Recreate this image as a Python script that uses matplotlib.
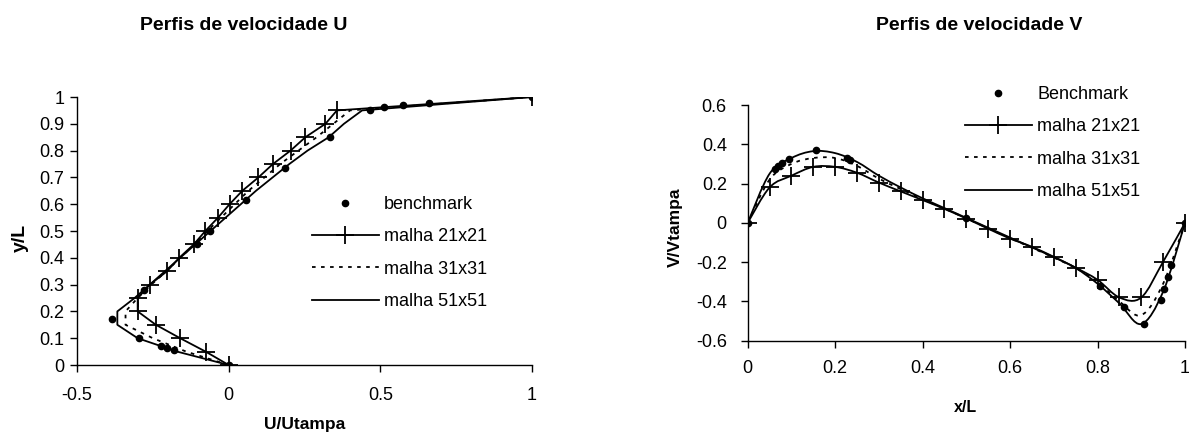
import numpy as np
import matplotlib.pyplot as plt
from matplotlib.path import Path
from matplotlib.patches import PathPatch

plt.rcParams['font.family'] = ['Liberation Sans', 'DejaVu Sans']

# --- perfil U ao longo da linha vertical central ---
bench_y = [0.0, 0.0547, 0.0625, 0.0703, 0.1016, 0.1719, 0.2813, 0.4531, 0.5,
           0.6172, 0.7344, 0.8516, 0.9531, 0.9609, 0.9688, 0.9766, 1.0]
bench_u = [0.0, -0.181, -0.202, -0.222, -0.297, -0.383, -0.278, -0.106, -0.061,
           0.057, 0.187, 0.333, 0.466, 0.511, 0.575, 0.659, 1.0]

y_grid = [0.0, 0.05, 0.1, 0.15, 0.2, 0.25, 0.3, 0.35, 0.4, 0.45, 0.5,
          0.55, 0.6, 0.65, 0.7, 0.75, 0.8, 0.85, 0.9, 0.95, 1.0]
u_21 = [0.0, -0.076, -0.16, -0.24, -0.30, -0.30, -0.26, -0.203, -0.163, -0.115, -0.077,
        -0.035, 0.003, 0.045, 0.098, 0.146, 0.204, 0.253, 0.319, 0.357, 1.0]
u_31 = [0.0, -0.14, -0.25, -0.34, -0.34, -0.30, -0.255, -0.205, -0.16, -0.112, -0.07,
        -0.025, 0.02, 0.065, 0.118, 0.17, 0.23, 0.29, 0.345, 0.40, 1.0]
u_51 = [0.0, -0.17, -0.30, -0.367, -0.367, -0.31, -0.26, -0.21, -0.16, -0.11, -0.06,
        -0.01, 0.04, 0.09, 0.145, 0.20, 0.26, 0.33, 0.38, 0.44, 1.0]

# --- perfil V ao longo da linha horizontal central ---
bench_x = [0.0, 0.0625, 0.0703, 0.0781, 0.0938, 0.1563, 0.2266, 0.2344, 0.5,
           0.8047, 0.8594, 0.9063, 0.9453, 0.9531, 0.9609, 0.9688, 1.0]
bench_v = [0.0, 0.275, 0.290, 0.304, 0.326, 0.371, 0.331, 0.322, 0.025,
           -0.320, -0.427, -0.516, -0.392, -0.337, -0.277, -0.214, 0.0]

x_grid = y_grid
v_21 = [0.0, 0.18, 0.24, 0.285, 0.285, 0.255, 0.205, 0.16, 0.116, 0.071, 0.022,
        -0.03, -0.08, -0.122, -0.173, -0.228, -0.29, -0.38, -0.38, -0.198, 0.0]
v_31 = [0.0, 0.22, 0.30, 0.33, 0.33, 0.29, 0.225, 0.172, 0.12, 0.072, 0.023,
        -0.028, -0.078, -0.127, -0.177, -0.23, -0.30, -0.40, -0.47, -0.31, 0.0]
v_51 = [0.0, 0.25, 0.33, 0.365, 0.355, 0.31, 0.24, 0.18, 0.125, 0.075, 0.025,
        -0.025, -0.075, -0.125, -0.175, -0.23, -0.31, -0.41, -0.515, -0.35, 0.0]


def smooth_path(xs, ys):
    # curva suavizada tipo Excel (Bezier cubica pelos pontos)
    p = np.column_stack([xs, ys]).astype(float)
    ext = np.vstack([p[0], p, p[-1]])
    verts = [p[0]]
    codes = [Path.MOVETO]
    for i in range(len(p) - 1):
        c1 = ext[i + 1] + (ext[i + 2] - ext[i]) / 6.0
        c2 = ext[i + 2] - (ext[i + 3] - ext[i + 1]) / 6.0
        verts += [c1, c2, ext[i + 2]]
        codes += [Path.CURVE4] * 3
    return Path(verts, codes)


fig = plt.figure(figsize=(11.89, 4.34), dpi=100)
W, H = 1189.0, 434.0

fs = 13
lw = 1.3
ms_plus = 13

# ---------------- grafico U ----------------
ax1 = fig.add_axes([77 / W, 1 - 365 / H, 455 / W, 268 / H])
ax1.plot(bench_u, bench_y, 'o', color='k', ms=4.5, label='benchmark')
ax1.plot(u_21, y_grid, '-', color='k', lw=lw, marker='+', ms=ms_plus, mew=1.3,
         label='malha 21x21')
ax1.plot(u_31, y_grid, color='k', lw=lw, ls=(0, (2, 3)), label='malha 31x31')
ax1.plot(u_51, y_grid, '-', color='k', lw=lw, label='malha 51x51')
ax1.set_xlim(-0.5, 1)
ax1.set_ylim(0, 1)
ax1.set_xticks([-0.5, 0, 0.5, 1])
ax1.set_xticklabels(['-0.5', '0', '0.5', '1'])
ax1.set_yticks(np.arange(0, 11) / 10)
ax1.set_yticklabels(['0', '0.1', '0.2', '0.3', '0.4', '0.5', '0.6', '0.7', '0.8', '0.9', '1'])
ax1.legend(loc='upper left', bbox_to_anchor=(312 / W, 1 - 196 / H),
           bbox_transform=fig.transFigure, frameon=False, fontsize=fs,
           borderpad=0, borderaxespad=0, handlelength=3.7, handletextpad=0.3,
           labelspacing=0.85)

# ---------------- grafico V ----------------
ax2 = fig.add_axes([747.7 / W, 1 - 340.7 / H, 437.3 / W, 235.7 / H])
ax2.plot(bench_x, bench_v, 'o', color='k', ms=4.5, label='Benchmark')
ax2.add_patch(PathPatch(smooth_path(x_grid, v_21), fill=False, ec='k', lw=lw))
ax2.plot(x_grid, v_21, ls='none', color='k', marker='+', ms=ms_plus, mew=1.3)
ax2.add_patch(PathPatch(smooth_path(x_grid, v_31), fill=False, ec='k', lw=lw,
                        ls=(0, (2, 3))))
ax2.add_patch(PathPatch(smooth_path(x_grid, v_51), fill=False, ec='k', lw=lw))
# entradas da legenda
ax2.plot([], [], '-', color='k', lw=lw, marker='+', ms=ms_plus, mew=1.3, label='malha 21x21')
ax2.plot([], [], color='k', lw=lw, ls=(0, (2, 3)), label='malha 31x31')
ax2.plot([], [], '-', color='k', lw=lw, label='malha 51x51')
ax2.set_xlim(0, 1)
ax2.set_ylim(-0.6, 0.6)
ax2.set_xticks(np.arange(0, 6) * 0.2)
ax2.set_xticklabels(['0', '0.2', '0.4', '0.6', '0.8', '1'])
ax2.set_yticks(np.arange(-3, 4) * 0.2)
ax2.set_yticklabels(['-0.6', '-0.4', '-0.2', '0', '0.2', '0.4', '0.6'])
ax2.legend(loc='upper left', bbox_to_anchor=(965 / W, 1 - 86 / H),
           bbox_transform=fig.transFigure, frameon=False, fontsize=fs,
           borderpad=0, borderaxespad=0, handlelength=3.7, handletextpad=0.3,
           labelspacing=0.85)

for ax in (ax1, ax2):
    for s in ('top', 'right'):
        ax.spines[s].set_visible(False)
    for s in ('left', 'bottom'):
        ax.spines[s].set_linewidth(1.0)
    ax.tick_params(direction='out', length=5, width=1.0, labelsize=fs)
ax1.tick_params(axis='y', pad=4)
ax1.tick_params(axis='x', pad=11)
ax2.tick_params(axis='y', pad=10)
ax2.tick_params(axis='x', pad=9)

# titulos e rotulos
fig.text(244 / W, 1 - 25 / H, 'Perfis de velocidade U', ha='center', va='center',
         fontsize=14, fontweight='bold')
fig.text(979 / W, 1 - 25 / H, 'Perfis de velocidade V', ha='center', va='center',
         fontsize=14, fontweight='bold')
fig.text(305 / W, 1 - 425 / H, 'U/Utampa', ha='center', va='center',
         fontsize=12.5, fontweight='bold')
fig.text(20 / W, 1 - 238 / H, 'y/L', ha='center', va='center', rotation=90,
         fontsize=14, fontweight='bold')
fig.text(965 / W, 1 - 408 / H, 'x/L', ha='center', va='center',
         fontsize=11.5, fontweight='bold')
fig.text(675 / W, 1 - 227 / H, 'V/Vtampa', ha='center', va='center', rotation=90,
         fontsize=12.5, fontweight='bold')

fig.savefig('out.png', dpi=100)
